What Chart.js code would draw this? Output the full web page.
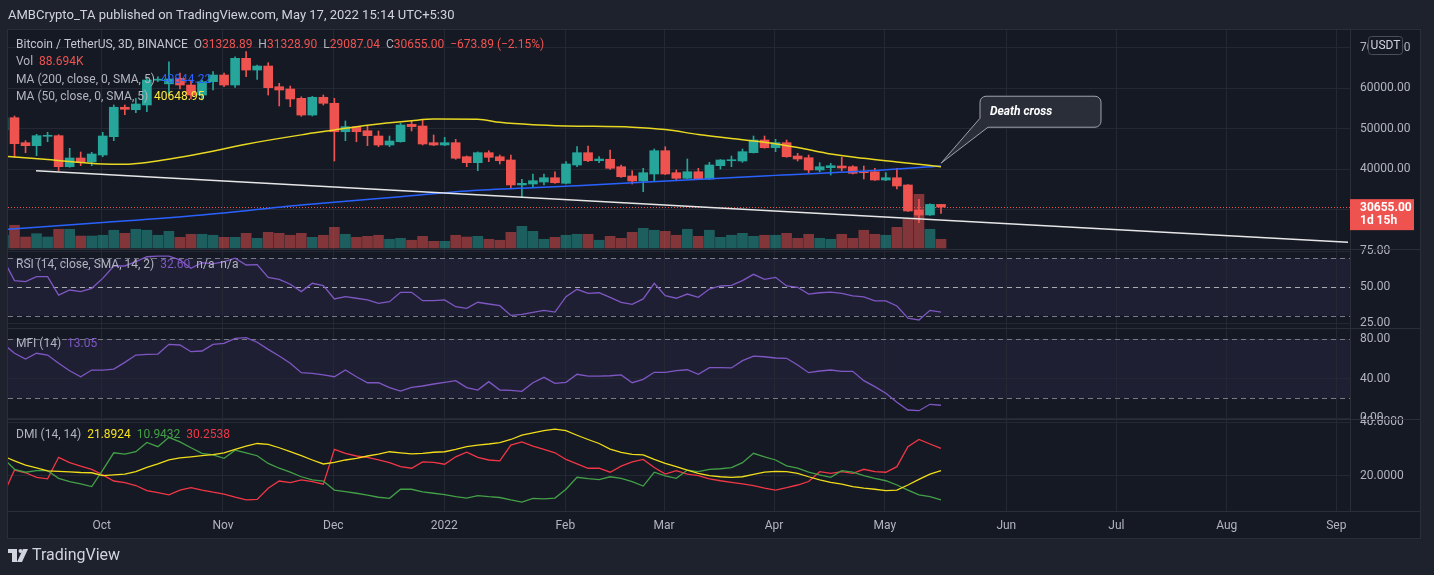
<!DOCTYPE html>
<html>
<head>
<meta charset="utf-8">
<title>BTC / USDT 3D</title>
<script src="https://cdn.jsdelivr.net/npm/chart.js@4.4.1/dist/chart.umd.min.js"></script>
<style>
  html, body { margin: 0; padding: 0; background: #1e222d; }
  #wrap { position: relative; width: 1434px; height: 575px; }
</style>
</head>
<body>
<div id="wrap"><canvas id="btcChart"></canvas></div>
<script>
// 3D candles, index 0 = first (cut) bar at the left edge, 85 = current bar
const opens = [49700, 52740, 46570, 45830, 48150, 48300, 40640, 42790, 41800, 43530,
  48050, 55310, 54715, 55876, 62000, 61100, 62470, 60810, 58340, 61630,
  63280, 60810, 67400, 64510, 65500, 60390, 59830, 57530, 53400, 57780,
  56300, 49280, 50520, 49530, 48220, 46000, 46810, 51110, 50690, 46570,
  46000, 46570, 43110, 41630, 44100, 43110, 42300, 36130, 36370, 36860,
  37920, 36540, 41060, 44100, 42120, 42470, 40640, 38350, 37110, 38840,
  44590, 39160, 37780, 39400, 37600, 40890, 42120, 42050, 44100, 47230,
  45330, 46570, 43280, 42860, 39830, 40400, 40810, 40640, 39400, 39400,
  37360, 37920, 36130, 29950, 28720, 31328.89];
const highs = [53200, 53160, 47060, 48640, 49140, 48540, 45185, 44270, 44200, 49135,
  55880, 55880, 57530, 62790, 62860, 66540, 63780, 62050, 62050, 64100,
  63780, 67800, 69040, 65750, 66320, 61230, 60570, 57900, 58000, 58340,
  57530, 51925, 50600, 50690, 49460, 48220, 51360, 52000, 52170, 48470,
  47900, 47400, 43300, 44300, 44590, 43530, 43530, 37530, 38840, 38840,
  39400, 41880, 45580, 45750, 43110, 44765, 41060, 39650, 40250, 45010,
  45580, 39830, 42540, 40250, 41730, 42400, 43280, 45010, 48220, 48220,
  47400, 47230, 43950, 43530, 41630, 41480, 42960, 40890, 40810, 40250,
  39160, 40250, 36200, 32590, 31500, 31328.90];
const lows = [49000, 42960, 44100, 43360, 46810, 39650, 40500, 40890, 40890, 43110,
  47060, 53480, 53975, 54220, 61630, 58390, 59830, 57360, 57110, 59580,
  60390, 60245, 62860, 62220, 58340, 55630, 55460, 53100, 53160, 55870,
  42050, 47060, 46800, 45830, 45580, 45580, 46700, 49460, 46000, 45830,
  45830, 42470, 40640, 39650, 41880, 41310, 35460, 32990, 35560, 36130,
  36540, 36370, 40640, 41880, 41630, 40000, 38020, 36370, 34470, 37180,
  38700, 37180, 37700, 37480, 37480, 40070, 40640, 41730, 44020, 45200,
  44350, 42960, 42050, 39160, 39400, 38590, 39650, 38840, 37600, 37280,
  37200, 35140, 29580, 26820, 28600, 29087.04];
const closes = [52700, 46320, 45830, 48300, 48300, 40640, 42790, 41800, 43780, 48220,
  55310, 54815, 56120, 62048, 62100, 62300, 60810, 58340, 61630, 63280,
  60810, 67400, 64510, 65500, 60150, 59580, 57360, 53400, 57780, 56300,
  49280, 50520, 49280, 48300, 46000, 46990, 50940, 50520, 46250, 46000,
  46570, 42720, 41630, 44100, 42960, 42120, 36130, 36540, 37180, 37920,
  36690, 41310, 44100, 42120, 42540, 40250, 38170, 37110, 39160, 44590,
  38840, 37780, 39400, 37600, 41060, 42300, 42300, 44350, 47230, 45330,
  46570, 43110, 42540, 39830, 40640, 40890, 40320, 39010, 39160, 37360,
  37920, 35880, 29700, 28720, 31328.89, 30655.00];
// volume in thousands
const volumes = [130, 232, 112, 146, 112, 191, 191, 122, 122, 130,
  181, 150, 191, 181, 130, 170, 109, 140, 140, 130,
  109, 109, 150, 99, 160, 150, 130, 150, 109, 130,
  211, 140, 109, 119, 130, 89, 99, 79, 119, 68,
  68, 130, 112, 119, 89, 79, 160, 221, 170, 89,
  109, 130, 140, 140, 79, 119, 99, 160, 201, 181,
  170, 130, 191, 119, 181, 109, 130, 150, 119, 130,
  130, 150, 99, 140, 99, 89, 140, 99, 181, 140,
  130, 211, 293, 548, 191, 88.694];

// moving averages as [bar index, value]
const ma200Points = [[0, 25150], [9, 26850], [18, 28720], [27, 31200], [36, 33250], [43, 34800],
  [52, 35920], [61, 37260], [70, 38500], [79, 39700], [85, 40844.22]];
const ma50Points = [[0, 43250], [4, 42400], [9, 41310], [11, 41250], [13, 41700], [18, 43950],
  [22, 46200], [27, 48500], [30, 49700], [33, 50900], [37, 52000], [39, 52400], [43, 52350],
  [45, 51600], [48, 51000], [51, 50700], [57, 50400], [60, 49800], [63, 48600], [66, 47600],
  [69, 46700], [72, 45400], [75, 43800], [78, 42700], [81, 41800], [85, 40648.95]];
const trendPoints = [[2.95, 39650], [121.9, 21970]];

const rsi = [69, 54.4, 53.7, 57.2, 57.2, 44.4, 47.9, 46.8, 49.1, 56,
  64.6, 64.6, 67.6, 71, 71.5, 71.5, 68.8, 63, 66.9, 66,
  67.6, 70, 65.3, 65.6, 56.7, 55.3, 51.9, 46.8, 52.6, 50.9,
  41.7, 43.3, 42.2, 41, 38.7, 39.8, 46.3, 46.3, 40.5, 40.5,
  41, 36.3, 35.2, 39.4, 38.2, 37, 30.3, 31, 32.4, 33.8,
  32.6, 43.3, 48.4, 45.6, 46, 42.8, 39.4, 38, 41.7, 52.6,
  44, 42.2, 45.1, 42.8, 48.6, 50.7, 51.2, 54.4, 58.8, 55.3,
  56.7, 50.7, 49.8, 45.1, 46, 46.5, 45.6, 43.8, 43.1, 40.3,
  40.3, 36.8, 28.3, 27.1, 33.8, 32.6];
const mfi = [75, 65.8, 60, 65.8, 64, 55.6, 48.1, 42, 48.8, 48.8,
  49.8, 56.6, 64, 64.7, 65, 74.9, 74.2, 67.4, 68.1, 74.9,
  75.9, 81, 81.6, 77, 69.8, 63, 55.6, 46.1, 45.5, 43.8,
  42, 48.8, 42, 35.9, 35.9, 30.9, 27.5, 31.3, 32.6, 34.6,
  36.3, 38, 30.9, 28.5, 37, 28.5, 28.2, 27.2, 35.9, 41.4,
  35.3, 36.3, 44.5, 42.7, 42.7, 43, 43.8, 35.9, 39.4, 46.5,
  46.5, 48.1, 49.1, 44.5, 51.2, 51.2, 50.9, 58.3, 63, 62.3,
  61, 60.7, 53.9, 46.1, 47.8, 48.8, 47.5, 47.5, 38, 31.9,
  25.2, 16, 8.2, 7.5, 14, 13.05];
const adx = [27.3, 25.6, 24, 22.9, 21.8, 21.6, 21.4, 21.2, 21.1, 20,
  20.3, 20.6, 21.5, 23.1, 24.4, 25.9, 26.7, 27.1, 27.5, 27.9,
  28.6, 29.9, 31.1, 32.1, 31.8, 30.5, 29, 27.5, 25.9, 24.4,
  25, 25.9, 26.5, 27.4, 28.1, 29, 28.6, 28.2, 28.4, 28.8,
  29, 29.9, 30.9, 31.5, 31.9, 32.4, 33.6, 35.2, 36.1, 36.9,
  37.5, 36.9, 35.2, 33.6, 32.1, 30, 28.8, 28, 27.8, 26.1,
  24.6, 23.4, 22.1, 20.9, 20, 19.6, 19.4, 19.6, 20.5, 21.3,
  21.6, 21.5, 20.9, 19.6, 18.4, 17.5, 16.8, 15.9, 15.3, 14.9,
  14.4, 14.6, 16.5, 18.6, 20.6, 21.8924];
const plusDI = [26.5, 22.4, 21.3, 21.9, 21.9, 19, 17.8, 16.9, 15.9, 22.1,
  28.6, 28.1, 29, 32.5, 30.9, 34.4, 32.7, 30.5, 28.4, 27.8,
  26.5, 29.6, 28.6, 27.5, 24.6, 22.8, 21.3, 19.6, 18.4, 18,
  14.6, 14, 13.4, 12.7, 11.9, 11.5, 14.9, 14.9, 13.9, 13.4,
  12.9, 12.1, 11.6, 12.5, 12.1, 11.8, 10.9, 10.1, 11.5, 11.3,
  11.6, 14.9, 19.4, 18.9, 18.5, 19.6, 19, 17.8, 16.1, 21.3,
  19.9, 19, 22.1, 21.5, 22.4, 22.6, 23, 24.9, 28.4, 27.1,
  25.9, 23.7, 22.8, 21.3, 20.3, 19.4, 21.9, 21.3, 20, 19,
  18.1, 16.5, 14.6, 12.8, 12.1, 10.9432];
const minusDI = [13, 22.1, 21.1, 19.4, 18.8, 26.9, 24.9, 23.6, 22.4, 20.3,
  18, 17.4, 16.3, 14.4, 13.6, 12.8, 14.6, 15.5, 14.6, 13.8,
  13.1, 11.9, 10.9, 11.1, 15.3, 18, 17.4, 18.4, 17.8, 16.8,
  29.9, 28.4, 27.4, 26.9, 25.9, 24.9, 23.4, 22.8, 25.2, 25,
  24.3, 27.1, 28.8, 26.9, 25.9, 25.6, 31.5, 32.7, 31.1, 29.9,
  28.6, 26.1, 24.4, 22.8, 22.8, 21.3, 23.6, 25.2, 26.1, 23.1,
  20.6, 21.9, 20.6, 20, 18.8, 18.1, 17.5, 16.9, 16.3, 15.3,
  14.6, 15.5, 16.5, 17.8, 21.5, 20.9, 21.5, 20.9, 22.4, 21.5,
  21.3, 23.4, 30.9, 33.6, 31.9, 30.2538];

// x axis: month labels at bar positions
const monthTicks = [8.9, 19.9, 29.9, 39.97, 50.94, 59.89, 69.86, 79.9, 90.92, 100.9, 110.9, 120.84];
const monthLabels = ['Oct', 'Nov', 'Dec', '2022', 'Feb', 'Mar', 'Apr', 'May', 'Jun', 'Jul', 'Aug', 'Sep'];
const priceTicks = [30000, 40000, 50000, 60000, 70000];
const rsiTicks = [25, 50, 75];
const mfiTicks = [0, 40, 80];
const dmiTicks = [20, 40];

const deathCross = { index: 85, price: 41500, text: 'Death cross' };

const UP = '#26a69a', DOWN = '#ef5350';
const OUTER = '#1e222d', PANE = '#151924', GRID = '#242834', BORDER = '#2a2e39';
const TEXT = '#b2b5be';
const FONT = "Roboto, 'Open Sans', sans-serif";

const candleColors = opens.map((o, i) => closes[i] >= o ? UP : DOWN);
const volColors = opens.map((o, i) => closes[i] >= o ? 'rgba(38,166,154,0.5)' : 'rgba(239,83,80,0.5)');
const pts = arr => arr.map((v, i) => ({ x: i, y: v }));
const pairs = arr => arr.map(p => ({ x: p[0], y: p[1] }));

function fixTicks(list) {
  return scale => { scale.ticks = list.map(v => ({ value: v })); };
}
function yAxis(ticks, min, max, weight, digits) {
  return {
    type: 'linear', position: 'right', stack: 'panes', stackWeight: weight,
    min: min, max: max,
    afterBuildTicks: fixTicks(ticks),
    afterFit: s => { s.width = 70; },
    grid: { color: GRID, drawTicks: false },
    border: { color: BORDER },
    ticks: { padding: 10, color: TEXT, autoSkip: false, font: { size: 12 },
      callback: v => Number(v).toFixed(digits) }
  };
}

function drawRuns(ctx, x, y, runs) {
  for (const [txt, col] of runs) {
    ctx.fillStyle = col;
    ctx.fillText(txt, x, y);
    x += ctx.measureText(txt).width;
  }
}

const tvPanes = {
  id: 'tvPanes',
  beforeDraw(chart) {
    const ctx = chart.ctx, ca = chart.chartArea;
    const right = chart.scales.price.right, bottom = chart.scales.x.bottom;
    ctx.save();
    ctx.fillStyle = OUTER;
    ctx.fillRect(0, 0, chart.width, chart.height);
    ctx.fillStyle = PANE;
    ctx.fillRect(ca.left, ca.top, right - ca.left, bottom - ca.top);
    // oscillator bands
    ctx.fillStyle = 'rgba(126,87,194,0.1)';
    const band = (s, a, b) => {
      const y1 = s.getPixelForValue(a), y2 = s.getPixelForValue(b);
      ctx.fillRect(ca.left, y1, ca.right - ca.left, y2 - y1);
    };
    band(chart.scales.rsi, 70, 30);
    band(chart.scales.mfi, 80, 20);
    ctx.restore();
  },
  beforeDatasetsDraw(chart) {
    const ctx = chart.ctx, ca = chart.chartArea;
    ctx.save();
    ctx.lineWidth = 1;
    const level = (s, v, col) => {
      const y = Math.round(s.getPixelForValue(v)) + 0.5;
      ctx.strokeStyle = col;
      ctx.setLineDash([5, 4]);
      ctx.beginPath(); ctx.moveTo(ca.left, y); ctx.lineTo(ca.right, y); ctx.stroke();
    };
    level(chart.scales.rsi, 70, '#787b86');
    level(chart.scales.rsi, 50, '#a8abb4');
    level(chart.scales.rsi, 30, '#787b86');
    level(chart.scales.mfi, 80, '#787b86');
    level(chart.scales.mfi, 20, '#787b86');
    // last price line
    const py = Math.round(chart.scales.price.getPixelForValue(closes[closes.length - 1])) + 0.5;
    ctx.strokeStyle = DOWN;
    ctx.setLineDash([1, 2]);
    ctx.beginPath(); ctx.moveTo(ca.left, py); ctx.lineTo(ca.right, py); ctx.stroke();
    ctx.restore();
  },
  afterDraw(chart) {
    const ctx = chart.ctx, ca = chart.chartArea;
    const ps = chart.scales.price, xs = chart.scales.x;
    const right = ps.right, bottom = xs.bottom;
    ctx.save();

    // pane separators and frame
    ctx.strokeStyle = BORDER;
    ctx.lineWidth = 1;
    ctx.setLineDash([]);
    for (const id of ['price', 'rsi', 'mfi']) {
      const y = Math.round(chart.scales[id].bottom) + 0.5;
      ctx.beginPath(); ctx.moveTo(ca.left, y); ctx.lineTo(right, y); ctx.stroke();
    }
    ctx.beginPath(); ctx.moveTo(ca.left, ca.bottom + 0.5); ctx.lineTo(right, ca.bottom + 0.5); ctx.stroke();
    ctx.strokeRect(ca.left - 0.5, ca.top - 0.5, right - ca.left + 1, bottom - ca.top + 1);

    // header
    ctx.font = '13px ' + FONT;
    ctx.textBaseline = 'middle';
    ctx.fillStyle = '#d1d4dc';
    ctx.fillText('AMBCrypto_TA published on TradingView.com, May 17, 2022 15:14 UTC+5:30', 8, 16);

    // legends
    const last = closes.length - 1;
    const chg = closes[last] - closes[last - 1];
    const pct = chg / closes[last - 1] * 100;
    const sgn = v => (v < 0 ? '\u2212' : '+') + Math.abs(v).toFixed(2);
    const G = '#b2b5be';
    ctx.font = '12px ' + FONT;
    drawRuns(ctx, 16, 45, [['Bitcoin / TetherUS, 3D, BINANCE  ', '#c3c6ce'],
      ['O', G], [opens[last].toFixed(2) + '  ', DOWN], ['H', G], [highs[last].toFixed(2) + '  ', DOWN],
      ['L', G], [lows[last].toFixed(2) + '  ', DOWN], ['C', G], [closes[last].toFixed(2) + '  ', DOWN],
      [sgn(chg) + ' (' + sgn(pct) + '%)', DOWN]]);
    drawRuns(ctx, 16, 62, [['Vol  ', G], [volumes[last].toFixed(3) + 'K', DOWN]]);
    drawRuns(ctx, 16, 79.5, [['MA (200, close, 0, SMA, 5)  ', G], [ma200Points[ma200Points.length - 1][1].toFixed(2), '#2962ff']]);
    drawRuns(ctx, 16, 96.5, [['MA (50, close, 0, SMA, 5)  ', G], [ma50Points[ma50Points.length - 1][1].toFixed(2), '#ffeb3b']]);
    drawRuns(ctx, 16, 264.5, [['RSI (14, close, SMA, 14, 2)  ', G], [rsi[last].toFixed(2) + '  ', '#7e57c2'], ['n/a  ', G], ['n/a', G]]);
    drawRuns(ctx, 16, 344, [['MFI (14)  ', G], [mfi[last].toFixed(2), '#7e57c2']]);
    drawRuns(ctx, 16, 434.5, [['DMI (14, 14)  ', G], [adx[last].toFixed(4) + '  ', '#f5e11b'],
      [plusDI[last].toFixed(4) + '  ', '#43a047'], [minusDI[last].toFixed(4), '#f23645']]);

    // last price label on the axis
    const py = ps.getPixelForValue(closes[last]);
    ctx.fillStyle = DOWN;
    ctx.fillRect(ps.left, py - 8, 64, 31);
    ctx.fillStyle = '#ffffff';
    ctx.font = 'bold 12px ' + FONT;
    ctx.fillText(closes[last].toFixed(2), ps.left + 10, py + 0.5);
    ctx.fillText('1d 15h', ps.left + 10, py + 14);

    // USDT badge
    ctx.fillStyle = PANE;
    ctx.strokeStyle = '#4a4e59';
    ctx.beginPath();
    ctx.roundRect(ps.left + 18.5, ca.top + 6.5, 34, 18, 3);
    ctx.fill(); ctx.stroke();
    ctx.fillStyle = '#d1d4dc';
    ctx.font = '12px ' + FONT;
    ctx.textAlign = 'center';
    ctx.fillText('USDT', ps.left + 35.5, ca.top + 16);
    ctx.textAlign = 'left';

    // death cross callout
    const ax = xs.getPixelForValue(deathCross.index), ay = ps.getPixelForValue(deathCross.price);
    const l = ax + 39, r = ax + 160, t = ay - 67, b = ay - 36, rr = 6;
    ctx.beginPath();
    ctx.moveTo(l + rr, t);
    ctx.lineTo(r - rr, t); ctx.arcTo(r, t, r, t + rr, rr);
    ctx.lineTo(r, b - rr); ctx.arcTo(r, b, r - rr, b, rr);
    ctx.lineTo(l + 8, b);
    ctx.lineTo(ax, ay);
    ctx.lineTo(l, b - 9);
    ctx.lineTo(l, t + rr); ctx.arcTo(l, t, l + rr, t, rr);
    ctx.closePath();
    ctx.fillStyle = '#2a2e39';
    ctx.fill();
    ctx.strokeStyle = '#9fa2ab';
    ctx.lineWidth = 1;
    ctx.stroke();
    ctx.fillStyle = '#ffffff';
    ctx.font = 'italic bold 12px ' + FONT;
    ctx.fillText(deathCross.text, l + 10, t + 15.5);

    // TradingView mark
    ctx.fillStyle = '#d1d4dc';
    ctx.fillRect(8, 549, 9, 4);
    ctx.fillRect(12, 549, 5, 13);
    ctx.beginPath(); ctx.arc(20.5, 551, 2, 0, Math.PI * 2); ctx.fill();
    ctx.beginPath();
    ctx.moveTo(23, 549); ctx.lineTo(28, 549); ctx.lineTo(22, 562); ctx.lineTo(17, 562);
    ctx.closePath(); ctx.fill();
    ctx.font = '16px ' + FONT;
    ctx.fillText('TradingView', 32, 556);
    ctx.restore();
  }
};

Chart.defaults.font.family = FONT;
Chart.defaults.color = TEXT;

const ctx = document.getElementById('btcChart').getContext('2d');
const btcChart = new Chart(ctx, {
  type: 'line',
  data: {
    datasets: [
      { type: 'bar', label: 'Volume', yAxisID: 'vol', order: 10, grouped: false,
        data: pts(volumes), backgroundColor: volColors, barThickness: 10, borderWidth: 0 },
      { type: 'bar', label: 'Wicks', yAxisID: 'price', order: 9, grouped: false,
        data: highs.map((h, i) => ({ x: i, y: [lows[i], h] })),
        backgroundColor: candleColors, barThickness: 1, borderWidth: 0 },
      { type: 'bar', label: 'Bodies', yAxisID: 'price', order: 8, grouped: false,
        data: opens.map((o, i) => ({ x: i, y: [o, closes[i]] })),
        backgroundColor: candleColors, barThickness: 9, minBarLength: 1, borderWidth: 0 },
      { label: 'MA 200', yAxisID: 'price', order: 3, data: pairs(ma200Points),
        borderColor: '#2962ff', borderWidth: 1.5, pointRadius: 0, cubicInterpolationMode: 'monotone' },
      { label: 'MA 50', yAxisID: 'price', order: 2, data: pairs(ma50Points),
        borderColor: '#e8d822', borderWidth: 1.5, pointRadius: 0, cubicInterpolationMode: 'monotone' },
      { label: 'Trend', yAxisID: 'price', order: 1, data: pairs(trendPoints),
        borderColor: '#e6e6e6', borderWidth: 1.5, pointRadius: 0 },
      { label: 'RSI', yAxisID: 'rsi', order: 0, data: pts(rsi),
        borderColor: '#7e57c2', borderWidth: 1.3, pointRadius: 0 },
      { label: 'MFI', yAxisID: 'mfi', order: 0, data: pts(mfi),
        borderColor: '#7e57c2', borderWidth: 1.3, pointRadius: 0 },
      { label: 'ADX', yAxisID: 'dmi', order: 0, data: pts(adx),
        borderColor: '#f0dc1a', borderWidth: 1.3, pointRadius: 0 },
      { label: '+DI', yAxisID: 'dmi', order: 0, data: pts(plusDI),
        borderColor: '#43a047', borderWidth: 1.3, pointRadius: 0 },
      { label: '-DI', yAxisID: 'dmi', order: 0, data: pts(minusDI),
        borderColor: '#f23645', borderWidth: 1.3, pointRadius: 0 }
    ]
  },
  options: {
    responsive: true,
    maintainAspectRatio: false,
    animation: false,
    devicePixelRatio: 1,
    events: [],
    layout: { padding: { left: 8, top: 30, right: 14, bottom: 37 } },
    plugins: { legend: { display: false }, tooltip: { enabled: false } },
    scales: {
      x: {
        type: 'linear', min: 0.41, max: 122.08, offset: false,
        afterBuildTicks: fixTicks(monthTicks),
        afterFit: s => { s.height = 27; },
        grid: { color: GRID, drawTicks: false, offset: false },
        border: { color: BORDER },
        ticks: { padding: 8, color: TEXT, autoSkip: false, maxRotation: 0, font: { size: 12 },
          callback: (v, i) => monthLabels[i] }
      },
      price: yAxis(priceTicks, 20321, 74395, 219, 2),
      vol: { type: 'linear', position: 'right', display: false, min: -2683, max: 2224 },
      rsi: yAxis(rsiTicks, 21.53, 76.39, 79, 2),
      mfi: yAxis(mfiTicks, -0.92, 91.47, 91, 2),
      dmi: yAxis(dmiTicks, 6.73, 41.3, 92, 4)
    }
  },
  plugins: [tvPanes]
});
</script>
</body>
</html>
